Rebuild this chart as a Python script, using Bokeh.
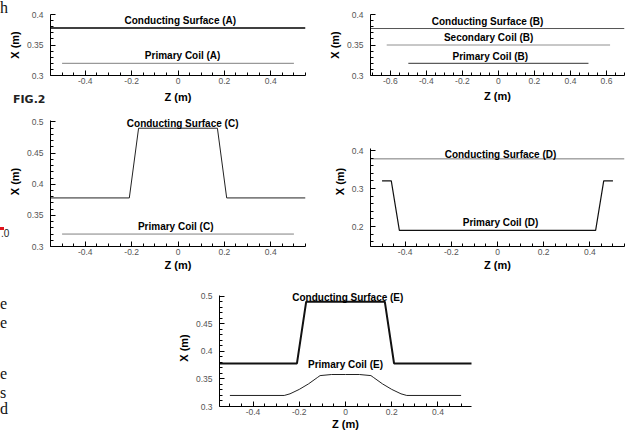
from bokeh.plotting import figure
from bokeh.models import Range1d, FixedTicker, Label, Div, Spacer
from bokeh.layouts import row, column
from bokeh.embed import file_html
from bokeh.resources import INLINE

# ---------------- data ----------------
z_ticks = [-0.4, -0.2, 0, 0.2, 0.4]
z_ticks_b = [-0.6, -0.4, -0.2, 0, 0.2, 0.4, 0.6]
z_minor = [-0.55, -0.5, -0.45, -0.35, -0.3, -0.25, -0.15, -0.1, -0.05,
           0.05, 0.1, 0.15, 0.25, 0.3, 0.35, 0.45, 0.5, 0.55]
z_minor_b = [-0.7, -0.65, -0.55, -0.5, -0.45, -0.35, -0.3, -0.25, -0.15, -0.1, -0.05,
             0.05, 0.1, 0.15, 0.25, 0.3, 0.35, 0.45, 0.5, 0.55, 0.65, 0.7]
x_ticks_ab = [0.3, 0.35, 0.4]
x_minor_ab = [0.31, 0.32, 0.33, 0.34, 0.36, 0.37, 0.38, 0.39]
x_ticks_ce = [0.3, 0.35, 0.4, 0.45, 0.5]
x_minor_ce = [0.31, 0.32, 0.33, 0.34, 0.36, 0.37, 0.38, 0.39,
              0.41, 0.42, 0.43, 0.44, 0.46, 0.47, 0.48, 0.49]
x_ticks_d = [0.2, 0.3, 0.4]
x_minor_d = [0.16, 0.18, 0.22, 0.24, 0.26, 0.28, 0.32, 0.34, 0.36, 0.38]

# (A)
surf_a_z = [-0.55, 0.55]
surf_a_x = [0.378, 0.378]
coil_a_z = [-0.5, 0.5]
coil_a_x = [0.32, 0.32]
# (B)
surf_b_z = [-0.71, 0.70]
surf_b_x = [0.377, 0.377]
sec_b_z = [-0.62, 0.62]
sec_b_x = [0.35, 0.35]
coil_b_z = [-0.5, 0.5]
coil_b_x = [0.32, 0.32]
# (C)
surf_c_z = [-0.55, -0.21, -0.17, 0.17, 0.21, 0.55]
surf_c_x = [0.378, 0.378, 0.49, 0.49, 0.378, 0.378]
coil_c_z = [-0.5, 0.5]
coil_c_x = [0.32, 0.32]
# (D)
surf_d_z = [-0.55, 0.55]
surf_d_x = [0.378, 0.378]
coil_d_z = [-0.5, -0.46, -0.425, 0.425, 0.46, 0.5]
coil_d_x = [0.32, 0.32, 0.19, 0.19, 0.32, 0.32]
# (E)
surf_e_z = [-0.55, -0.21, -0.17, 0.17, 0.21, 0.55]
surf_e_x = [0.378, 0.378, 0.49, 0.49, 0.378, 0.378]
coil_e_z = [-0.5, -0.265, -0.24, -0.2, -0.16, -0.12, -0.11, -0.06, 0, 0.06,
            0.11, 0.12, 0.16, 0.2, 0.24, 0.265, 0.5]
coil_e_x = [0.32, 0.32, 0.323, 0.331, 0.341, 0.353, 0.356, 0.358, 0.358, 0.358,
            0.356, 0.353, 0.341, 0.331, 0.323, 0.32, 0.32]

# fragments of the surrounding scanned page
stray_letters = ["h", "e", "e", "e", "s", "d"]

SANS = "Liberation Sans"


def fmt(v):
    return "{:g}".format(v)


def make_fig(w, h, bl, br, bt, bb, xr, yr, xt, xmt, yt, ymt, ybounds, als):
    p = figure(width=w, height=h, x_range=Range1d(*xr), y_range=Range1d(*yr),
               output_backend="svg", toolbar_location=None,
               min_border_left=bl, min_border_right=br,
               min_border_top=bt, min_border_bottom=bb)
    p.outline_line_color = None
    p.grid.visible = False
    p.background_fill_color = "white"
    p.border_fill_color = "white"
    p.xaxis.ticker = FixedTicker(ticks=xt, minor_ticks=xmt)
    p.yaxis.ticker = FixedTicker(ticks=yt, minor_ticks=ymt)
    p.xaxis.major_label_overrides = {t: fmt(t) for t in xt}
    p.yaxis.major_label_overrides = {t: fmt(t) for t in yt}
    p.yaxis.bounds = ybounds
    p.xaxis.axis_label = "Z (m)"
    p.yaxis.axis_label = "X (m)"
    for ax in (p.xaxis[0], p.yaxis[0]):
        ax.axis_line_color = "black"
        ax.axis_line_width = 1
        ax.major_tick_in = 5
        ax.major_tick_out = 0
        ax.minor_tick_in = 3
        ax.minor_tick_out = 0
        ax.major_tick_line_color = "black"
        ax.minor_tick_line_color = "black"
        ax.major_label_text_font = SANS
        ax.major_label_text_font_size = "8.5px"
        ax.major_label_text_color = "#555555"
        ax.axis_label_text_font = SANS
        ax.axis_label_text_font_style = "bold"
        ax.axis_label_text_font_size = "11px"
        ax.axis_label_text_color = "black"
    p.xaxis.major_label_standoff = 2
    p.xaxis.axis_label_standoff = als
    p.yaxis.major_label_standoff = 7
    p.yaxis.axis_label_standoff = 3
    return p


def title(p, text, x, y):
    p.add_layout(Label(x=x, y=y, text=text, text_align="center", text_baseline="middle",
                       text_font=SANS, text_font_style="bold",
                       text_font_size="10px", text_color="black"))


# ---------------- Plot A ----------------
pA = make_fig(328, 116, 58, 15, 22, 33, (-0.55, 0.55), (0.3, 0.4),
              z_ticks, z_minor, x_ticks_ab, x_minor_ab, (0.3, 0.4), 4)
pA.line(surf_a_z, surf_a_x, line_color="black", line_width=1.5)
pA.line(coil_a_z, coil_a_x, line_color="#808080", line_width=1)
title(pA, "Conducting Surface (A)", 0.01, 0.39)
title(pA, "Primary Coil (A)", 0.02, 0.333)

# ---------------- Plot B ----------------
pB = make_fig(311, 116, 50, 7, 22, 33, (-0.71, 0.70), (0.3, 0.4),
              z_ticks_b, z_minor_b, x_ticks_ab, x_minor_ab, (0.3, 0.4), 3)
pB.line(surf_b_z, surf_b_x, line_color="#555555", line_width=1)
pB.line(sec_b_z, sec_b_x, line_color="#909090", line_width=1)
pB.line(coil_b_z, coil_b_x, line_color="#333333", line_width=1)
title(pB, "Conducting Surface (B)", -0.06, 0.388)
title(pB, "Secondary Coil (B)", -0.054, 0.363)
title(pB, "Primary Coil (B)", -0.045, 0.331)

# ---------------- Plot C ----------------
pC = make_fig(328, 172, 58, 15, 8, 34, (-0.55, 0.55), (0.3, 0.5088),
              z_ticks, z_minor, x_ticks_ce, x_minor_ce, (0.3, 0.502), 1)
pC.line(surf_c_z, surf_c_x, line_color="#222222", line_width=1)
pC.line(coil_c_z, coil_c_x, line_color="#808080", line_width=1)
title(pC, "Conducting Surface (C)", 0.02, 0.498)
title(pC, "Primary Coil (C)", -0.01, 0.332)

# ---------------- Plot D ----------------
pD = make_fig(311, 172, 50, 7, 8, 34, (-0.55, 0.55), (0.1474, 0.4895),
              z_ticks, z_minor, x_ticks_d, x_minor_d, (0.1474, 0.405), 1)
pD.line(surf_d_z, surf_d_x, line_color="#777777", line_width=1)
pD.line(coil_d_z, coil_d_x, line_color="#111111", line_width=1.2)
title(pD, "Conducting Surface (D)", 0.013, 0.389)
title(pD, "Primary Coil (D)", 0.013, 0.21)

# ---------------- Plot E ----------------
pE = make_fig(320, 152, 59, 9, 9, 26, (-0.545, 0.545), (0.3, 0.5121),
              z_ticks, z_minor, x_ticks_ce, x_minor_ce, (0.3, 0.502), 0)
pE.line(surf_e_z, surf_e_x, line_color="#111111", line_width=2)
pE.line(coil_e_z, coil_e_x, line_color="#222222", line_width=1)
title(pE, "Conducting Surface (E)", 0.01, 0.498)
title(pE, "Primary Coil (E)", 0.0, 0.377)

# ---------------- page fragments (overlay) ----------------
letter_pos = [(3, 3.2), (3, 298.6), (3, 317.6), (3, 368.6), (3, 387.6), (3, 403.6)]
spans = []
for ch, (lx, ty) in zip(stray_letters, letter_pos):
    spans.append('<span style="position:absolute;left:%spx;top:%spx;font-family:\'Liberation Serif\';'
                 'font-size:16px;line-height:16px;color:#111;white-space:nowrap">%s</span>' % (lx, ty, ch))
spans.append('<span style="position:absolute;left:16px;top:96.7px;font-family:\'DejaVu Sans\';'
             'font-weight:bold;font-size:11px;line-height:11px;color:#222;white-space:nowrap">FIG.2</span>')
spans.append('<span style="position:absolute;left:3px;top:230px;width:4px;height:3px;'
             'background:#e0141e"></span>')
spans.append('<span style="position:absolute;left:4px;top:232px;font-family:\'Liberation Sans\';'
             'font-size:10px;line-height:10px;color:#222;white-space:nowrap">.0</span>')
overlay = Div(text="".join(spans), width=10, height=10,
              styles={"position": "absolute", "left": "0px", "top": "0px", "z-index": "10",
                      "overflow": "visible", "pointer-events": "none"})

layout = column(overlay, row(pA, pB), row(pC, pD), row(Spacer(width=168, height=152), pE),
                margin=(-8, -8, -8, -8))

open("out.html", "w").write(file_html(layout, INLINE))
